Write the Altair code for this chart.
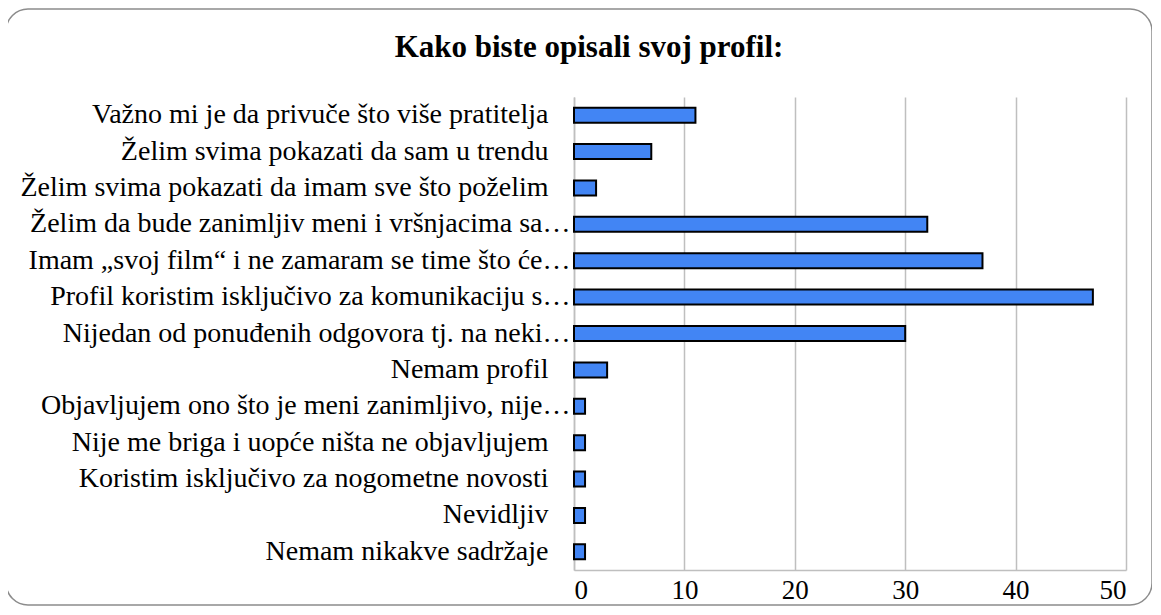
import altair as alt
import pandas as pd

title_text = "Kako biste opisali svoj profil:"
categories = [
    "Važno mi je da privuče što više pratitelja",
    "Želim svima pokazati da sam u trendu",
    "Želim svima pokazati da imam sve što poželim",
    "Želim da bude zanimljiv meni i vršnjacima sa…",
    "Imam „svoj film“ i ne zamaram se time što će…",
    "Profil koristim isključivo za komunikaciju s…",
    "Nijedan od ponuđenih odgovora tj. na neki…",
    "Nemam profil",
    "Objavljujem ono što je meni zanimljivo, nije…",
    "Nije me briga i  uopće ništa ne objavljujem",
    "Koristim isključivo za nogometne novosti",
    "Nevidljiv",
    "Nemam nikakve sadržaje",
]
values = [11, 7, 2, 32, 37, 47, 30, 3, 1, 1, 1, 1, 1]
x_ticks = [0, 10, 20, 30, 40, 50]

df = pd.DataFrame({"cat": categories, "val": values})
FONT = "Liberation Serif"

bars = alt.Chart(df).mark_bar(
    color="#4285f4", stroke="#000000", strokeWidth=2, size=15
).encode(
    x=alt.X("val:Q", scale=alt.Scale(domain=[0, 50], nice=False),
            axis=alt.Axis(values=x_ticks, title=None, grid=True, gridColor="#bfbfbf",
                          gridWidth=1.5, domainColor="#bfbfbf", domainWidth=1.5,
                          ticks=False, labelFont=FONT, labelFontSize=27,
                          labelColor="#000000", labelPadding=7)),
    y=alt.Y("cat:N", sort=categories,
            axis=alt.Axis(title=None, ticks=False, domainColor="#bfbfbf", domainWidth=1.5,
                          labelFont=FONT, labelFontSize=28, labelColor="#000000",
                          labelLimit=600,
                          labelPadding={"condition": {"test": "indexof(datum.label, '…') >= 0", "value": 4},
                                        "value": 26})),
)

border = alt.Chart(df).mark_rect(
    fill=None, stroke="#8c8c8c", strokeWidth=1.5, cornerRadius=22, clip=False
).encode(
    x=alt.value(-568), x2=alt.value(578), y=alt.value(-88), y2=alt.value(508)
).transform_filter("datum.val == 47")

title = alt.Chart(df).mark_text(
    text=title_text, font=FONT, fontSize=31, fontWeight="bold", color="#000000",
    align="center", baseline="alphabetic", clip=False
).encode(
    x=alt.value(15), y=alt.value(-40)
).transform_filter("datum.val == 47")

chart = alt.layer(border, bars, title).properties(
    width=552, height=473,
    padding={"left": 566, "top": 89, "right": 26, "bottom": 36},
    autosize=alt.AutoSizeParams(type="none"),
).configure_view(stroke=None)

chart.save("out.html", embed_options={"renderer": "svg", "actions": False})
